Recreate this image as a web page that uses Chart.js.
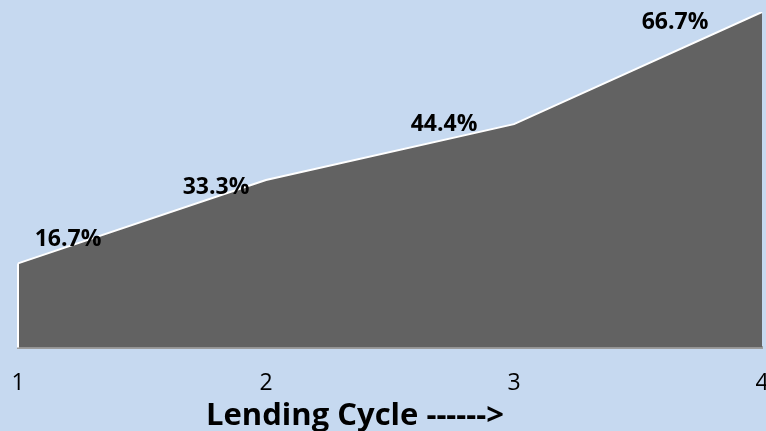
<!DOCTYPE html>
<html>
<head>
<meta charset="utf-8">
<script src="https://cdn.jsdelivr.net/npm/chart.js@4.4.1/dist/chart.umd.min.js"></script>
<style>
  html, body { margin: 0; padding: 0; background: #c6d9f0; overflow: hidden; }
  #wrap { width: 766px; height: 431px; position: relative; }
</style>
</head>
<body>
<div id="wrap"><canvas id="chart"></canvas></div>
<script>
// Data
const cycles = ['1', '2', '3', '4'];
const shares = [16.7, 33.3, 44.4, 66.7];
const xTitle = 'Lending Cycle ------>';

// label nudges (px) so they sit like the original data labels
const labelDx = [50, -50, -70, -87];
const labelDy = [-24, 8, 0, 10];

const labelPlugin = {
  id: 'areaLabels',
  afterDatasetsDraw(chart) {
    const ctx = chart.ctx;
    const meta = chart.getDatasetMeta(0);
    const yScale = chart.scales.y;
    const area = chart.chartArea;
    ctx.save();
    // white left edge of the area
    const first = meta.data[0];
    ctx.strokeStyle = '#ffffff';
    ctx.lineWidth = 2;
    ctx.beginPath();
    ctx.moveTo(first.x, yScale.getPixelForValue(0));
    ctx.lineTo(first.x, first.y);
    ctx.stroke();

    ctx.font = 'bold 23px "Open Sans"';
    ctx.fillStyle = '#000000';
    ctx.textAlign = 'center';
    ctx.textBaseline = 'middle';
    meta.data.forEach((pt, i) => {
      ctx.fillText(shares[i].toFixed(1) + '%', pt.x + labelDx[i], pt.y + labelDy[i]);
    });

    // axis title, sits a bit left of centre like the original
    ctx.font = 'bold 31px "Open Sans"';
    ctx.textBaseline = 'alphabetic';
    ctx.fillText(xTitle, (area.left + area.right) / 2 - 35, 425);
    ctx.restore();
  }
};

new Chart(document.getElementById('chart'), {
  type: 'line',
  data: {
    labels: cycles,
    datasets: [{
      data: shares,
      fill: 'origin',
      backgroundColor: '#626262',
      borderColor: '#ffffff',
      borderWidth: 2,
      pointRadius: 0,
      tension: 0
    }]
  },
  options: {
    responsive: true,
    maintainAspectRatio: false,
    animation: false,
    layout: { padding: { left: 18, right: 4, top: 12, bottom: 12 } },
    plugins: {
      legend: { display: false },
      tooltip: { enabled: false }
    },
    scales: {
      x: {
        offset: false,
        grid: { display: false, drawTicks: false },
        border: { display: true, color: '#9c9c9c', width: 3 },
        ticks: {
          color: '#000000',
          font: { family: 'Open Sans', size: 23 },
          padding: 22,
          maxRotation: 0,
          autoSkip: false
        },
        afterFit(scale) {
          scale.paddingLeft = 0;
          scale.paddingRight = 0;
        }
      },
      y: {
        display: false,
        min: 0,
        max: 66.7
      }
    }
  },
  plugins: [labelPlugin]
});
</script>
</body>
</html>
